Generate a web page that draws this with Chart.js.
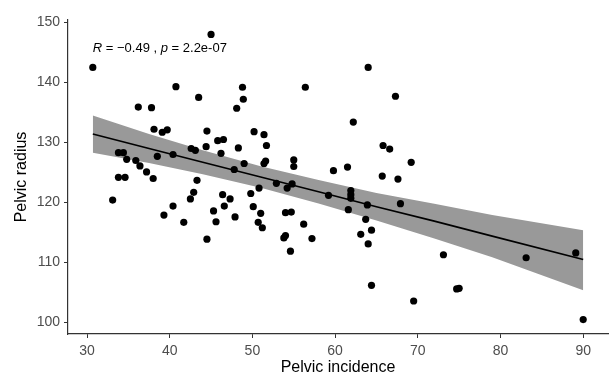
<!DOCTYPE html>
<html>
<head>
<meta charset="utf-8">
<script src="https://cdn.jsdelivr.net/npm/chart.js@4/dist/chart.umd.min.js"></script>
<style>
  html, body { margin: 0; padding: 0; background: #fff; }
  #wrap { width: 614px; height: 378px; }
</style>
</head>
<body>
<div id="wrap"><canvas id="grafico"></canvas></div>
<script>
// Datos: incidencia pelvica (x) y radio pelvico (y)
const incidencia = [
  30.7, 45.0, 40.75, 43.5, 36.2, 37.8, 48.1, 38.1, 39.1, 39.7,
  44.5, 45.8, 46.5, 42.6, 43.1, 44.4, 46.2, 48.3, 33.8, 34.4,
  34.8, 35.9, 38.5, 40.4, 36.4, 37.2, 33.8, 34.6, 38.0, 47.8,
  48.8, 48.9, 56.4, 64.0, 67.3, 62.2, 50.2, 51.4, 51.7, 65.8,
  66.6, 69.2, 49.0, 51.4, 51.6, 55.0, 55.0, 59.8, 61.5, 65.7,
  67.6, 33.1, 43.3, 42.9, 42.5, 40.4, 39.3, 41.7, 46.4, 47.3,
  46.6, 45.3, 45.6, 44.5, 47.9, 52.9, 54.2, 54.8, 49.8, 50.8,
  50.1, 51.0, 50.7, 51.2, 54.0, 54.7, 56.2, 53.8, 54.0, 57.2,
  54.6, 59.2, 61.9, 61.9, 61.9, 61.6, 63.9, 67.9, 63.7, 64.4,
  63.1, 64.0, 64.4, 69.5, 73.1, 74.7, 75.0, 83.1, 89.1, 90.0
];
const radio = [
  142.5, 148.0, 139.3, 137.5, 135.9, 135.8, 135.7, 132.2, 131.7, 132.1,
  131.9, 130.3, 130.5, 129.0, 128.7, 129.3, 128.2, 129.1, 128.3, 128.3,
  127.2, 127.0, 127.7, 128.0, 126.1, 125.1, 124.2, 124.2, 124.0, 125.5,
  139.2, 137.2, 139.2, 142.5, 137.7, 133.4, 131.8, 131.3, 129.5, 129.5,
  128.9, 126.7, 126.5, 126.5, 126.9, 127.1, 126.0, 125.3, 125.9, 124.4,
  123.9, 120.4, 123.7, 121.7, 120.6, 119.4, 117.9, 116.7, 121.3, 120.6,
  119.4, 118.6, 116.8, 113.9, 117.6, 123.2, 122.4, 123.1, 121.5, 122.4,
  119.3, 118.2, 116.7, 115.8, 118.3, 118.4, 116.4, 114.1, 114.5, 114.0,
  111.9, 121.2, 122.0, 121.3, 120.7, 118.8, 119.6, 119.8, 117.2, 115.4,
  114.7, 113.1, 106.2, 103.6, 111.3, 105.6, 105.7, 110.8, 111.6, 100.5
];

// Recta de regresion y banda de confianza
const ajusteX = [30.7, 37.5, 44, 51, 58, 65, 72, 79, 90];
const ajusteY = [131.4, 129.0, 126.7, 124.25, 121.8, 119.3, 116.9, 114.4, 110.5];
const bandaInf = [128.3, 126.6, 124.7, 122.45, 119.85, 117.0, 114.0, 110.9, 105.4];
const bandaSup = [134.5, 131.4, 128.7, 126.05, 123.75, 121.6, 119.8, 117.9, 115.4];

const ticksX = [30, 40, 50, 60, 70, 80, 90];
const ticksY = [100, 110, 120, 130, 140, 150];

const fuente = '"Liberation Sans", Arial, sans-serif';

function pares(xs, ys) {
    return xs.map((x, i) => ({ x: x, y: ys[i] }));
}

// Texto de la correlacion con R y p en cursiva
const etiquetaCor = {
    id: 'etiquetaCor',
    afterDatasetsDraw(chart) {
        const ctx = chart.ctx;
        const px = chart.scales.x.getPixelForValue(30.7);
        const py = chart.scales.y.getPixelForValue(145.7);
        const partes = [
            { t: 'R', it: true },
            { t: ' = \u22120.49 , ', it: false },
            { t: 'p', it: true },
            { t: ' = 2.2e-07', it: false }
        ];
        ctx.save();
        ctx.fillStyle = '#000';
        ctx.textBaseline = 'middle';
        ctx.textAlign = 'left';
        let x = px;
        partes.forEach(function(p) {
            ctx.font = (p.it ? 'italic ' : '') + '13px ' + fuente;
            ctx.fillText(p.t, x, py);
            x += ctx.measureText(p.t).width;
        });
        ctx.restore();
    }
};

const ctx = document.getElementById('grafico').getContext('2d');
new Chart(ctx, {
    type: 'scatter',
    data: {
        datasets: [
            {
                data: pares(ajusteX, bandaInf),
                showLine: true,
                borderWidth: 0,
                pointRadius: 0,
                fill: false,
                order: 3
            },
            {
                data: pares(ajusteX, bandaSup),
                showLine: true,
                borderWidth: 0,
                pointRadius: 0,
                fill: '-1',
                backgroundColor: 'rgb(153,153,153)',
                order: 2
            },
            {
                data: pares(ajusteX, ajusteY),
                showLine: true,
                borderColor: '#000',
                borderWidth: 1.6,
                pointRadius: 0,
                order: 1
            },
            {
                data: pares(incidencia, radio),
                backgroundColor: '#000',
                borderColor: '#000',
                pointRadius: 3.6,
                borderWidth: 0,
                order: 0
            }
        ]
    },
    options: {
        responsive: true,
        maintainAspectRatio: false,
        animation: false,
        layout: {
            padding: { top: 20, right: 6, left: 0, bottom: 0 }
        },
        scales: {
            x: {
                type: 'linear',
                min: 27.7,
                max: 93.0,
                afterBuildTicks: function(scale) {
                    scale.ticks = ticksX.map(v => ({ value: v }));
                },
                afterFit: function(scale) { scale.height = 44; },
                grid: {
                    drawOnChartArea: false,
                    drawTicks: true,
                    tickLength: 4,
                    color: '#333'
                },
                border: { display: true, color: '#333', width: 1.2 },
                ticks: {
                    padding: 5,
                    color: '#4d4d4d',
                    font: { family: fuente, size: 14 }
                },
                title: {
                    display: true,
                    text: 'Pelvic incidence',
                    color: '#000',
                    padding: { top: 0, bottom: 1 },
                    font: { family: fuente, size: 16 }
                }
            },
            y: {
                type: 'linear',
                min: 98.1,
                max: 150.4,
                afterBuildTicks: function(scale) {
                    scale.ticks = ticksY.map(v => ({ value: v }));
                },
                afterFit: function(scale) { scale.width = 68; },
                grid: {
                    drawOnChartArea: false,
                    drawTicks: true,
                    tickLength: 4,
                    color: '#333'
                },
                border: { display: true, color: '#333', width: 1.2 },
                ticks: {
                    padding: 4,
                    color: '#4d4d4d',
                    font: { family: fuente, size: 14 }
                },
                title: {
                    display: true,
                    text: 'Pelvic radius',
                    color: '#000',
                    padding: { top: 12, bottom: 0 },
                    font: { family: fuente, size: 16 }
                }
            }
        },
        plugins: {
            legend: { display: false },
            tooltip: { enabled: false }
        }
    },
    plugins: [etiquetaCor]
});
</script>
</body>
</html>
